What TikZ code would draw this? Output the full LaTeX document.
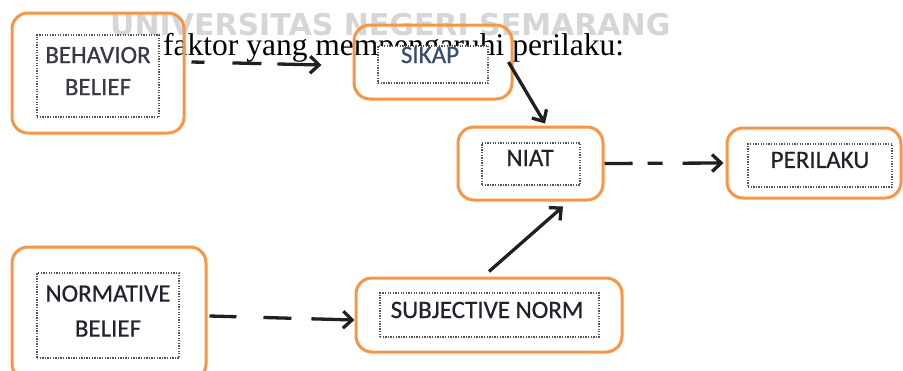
\documentclass[tikz,border=0pt]{standalone}
\usepackage{fontspec}
\setmainfont{Carlito}
\newfontfamily\boxface[FakeBold=0.6]{Carlito}
\newfontfamily\serifface{Liberation Serif}
\newfontfamily\markface{DejaVu Sans}
\usetikzlibrary{arrows.meta}
\definecolor{boxorange}{HTML}{F79646}
\definecolor{arrowgray}{HTML}{202020}
\definecolor{txtdark}{HTML}{22222E}
\definecolor{txtblue}{HTML}{3A4C6C}
\definecolor{txtgray}{HTML}{383846}
\definecolor{markgray}{HTML}{D6D6D6}
\definecolor{dotgray}{HTML}{555555}
\begin{document}
\begin{tikzpicture}[x=1pt,y=-1pt,
  outerbox/.style={draw=boxorange, line width=3pt, rounded corners=16pt, inner sep=0pt},
  innerbox/.style={draw=dotgray, fill=white, line width=1.3pt, dash pattern=on 1.3pt off 1.3pt, inner sep=0pt},
  boxtext/.style={font=\boxface\fontsize{25}{32}\selectfont, text=txtdark, align=center, inner sep=0pt},
  solidarrow/.style={draw=arrowgray, line width=3.3pt, -{Straight Barb[length=9pt,width=17pt]}},
  dashA/.style={solidarrow, dash pattern=on 13pt off 28pt on 29pt off 16pt on 300pt},
  dashB/.style={solidarrow, dash pattern=on 28pt off 15pt on 15pt off 20pt on 300pt},
  dashC/.style={solidarrow, dash pattern=on 27pt off 27pt on 28pt off 20pt on 300pt}]
\useasboundingbox (0,0) rectangle (903,370);
\fill[white] (0,0) rectangle (903,370);
\clip (0,0) rectangle (903,370);

% watermark and caption of the scanned page
\node[anchor=base west, inner sep=0pt, text=markgray,
      font=\markface\bfseries\fontsize{30}{36}\selectfont] (mark) at (110,35) {UNIVERSITAS NEGERI SEMARANG};
\node[anchor=base west, inner sep=0pt,
      font=\serifface\fontsize{31.5}{36}\selectfont] (caption) at (163,55) {faktor yang mempengaruhi perilaku:};

% outer orange boxes
\node[outerbox, minimum width=172pt, minimum height=120pt] (bb) at (98,73) {};
\node[outerbox, minimum width=158pt, minimum height=74pt] (sikap) at (433,62) {};
\node[outerbox, minimum width=145pt, minimum height=73pt] (niat) at (530.5,163.5) {};
\node[outerbox, minimum width=174pt, minimum height=70pt] (peri) at (814,163) {};
\node[outerbox, minimum width=194pt, minimum height=133pt] (norm) at (109,313.5) {};
\node[outerbox, minimum width=266pt, minimum height=74pt] (subj) at (489,315) {};

% inner dotted boxes
\node[innerbox, minimum width=122pt, minimum height=82pt] (bbin) at (98,76) {};
\node[innerbox, minimum width=110pt, minimum height=37pt] (sikapin) at (433,64.5) {};
\node[innerbox, minimum width=98pt, minimum height=42pt] (niatin) at (531,164) {};
\node[innerbox, minimum width=144pt, minimum height=43pt] (periin) at (820,165.5) {};
\node[innerbox, minimum width=142pt, minimum height=85pt] (normin) at (108,315.5) {};
\node[innerbox, minimum width=219pt, minimum height=44pt] (subjin) at (489.5,315) {};

% texts
\node[boxtext, text=txtgray] (bbtxt) at (98,71) {BEHAVIOR\\BELIEF};
\node[boxtext, text=txtblue] (sikaptxt) at (430,55) {SIKAP};
\node[boxtext] (niattxt) at (530,158) {NIAT};
\node[boxtext] (peritxt) at (820,160) {PERILAKU};
\node[boxtext, font=\boxface\fontsize{25}{35}\selectfont] (normtxt) at (108,311) {NORMATIVE\\BELIEF};
\node[boxtext] (subjtxt) at (487,310) {SUBJECTIVE NORM};

% connectors
\draw[dashA] ([xshift=6pt,yshift=11pt]bb.east) -- ([xshift=-31pt,yshift=-3pt]sikap.west);
\draw[solidarrow] ([xshift=-5pt]sikap.east) -- ([xshift=14.5pt,yshift=2pt]niat.north);
\draw[dashB] (niat.east) -- ([xshift=-2pt]peri.west);
\draw[solidarrow] ([yshift=5pt]subj.north) -- ([xshift=32.5pt,yshift=-5pt]niat.south);
\draw[dashC] ([xshift=2pt,yshift=-2.5pt]norm.east) -- ([yshift=-5pt]subj.west);
\end{tikzpicture}
\end{document}
